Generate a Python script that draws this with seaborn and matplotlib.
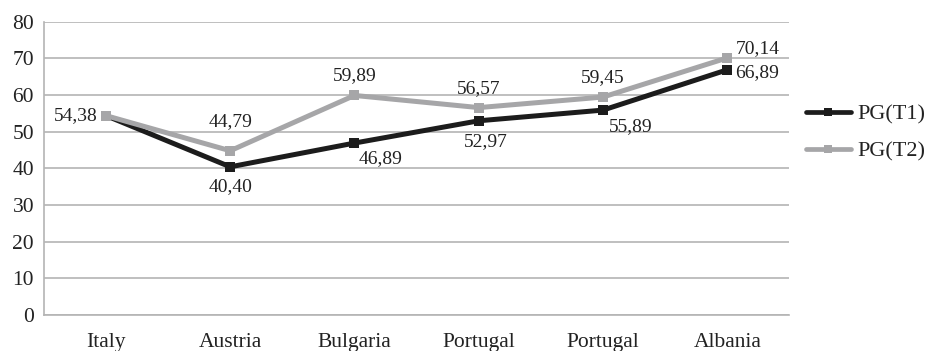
import matplotlib
matplotlib.use("Agg")
import matplotlib.pyplot as plt
from matplotlib.lines import Line2D
import seaborn as sns
import pandas as pd

countries = ["Italy", "Austria", "Bulgaria", "Portugal", "Portugal", "Albania"]
pg_t1 = [54.38, 40.40, 46.89, 52.97, 55.89, 66.89]
pg_t2 = [54.38, 44.79, 59.89, 56.57, 59.45, 70.14]
series_names = ["PG(T1)", "PG(T2)"]
yticks = [0, 10, 20, 30, 40, 50, 60, 70, 80]

sns.set_theme(style="white")
plt.rcParams["font.family"] = ["Liberation Serif", "DejaVu Serif"]

pos = list(range(len(countries)))
df = pd.DataFrame({
    "pos": pos * 2,
    "value": pg_t1 + pg_t2,
    "series": [series_names[0]] * len(pos) + [series_names[1]] * len(pos),
})

fig = plt.figure(figsize=(9.32, 3.51), dpi=100)
ax = fig.add_axes([0.047, 0.103, 0.8, 0.835])

palette = {series_names[0]: "#1c1c1c", series_names[1]: "#a6a6a8"}
# T1 is drawn first, so the gray T2 line sits on top where they meet
sns.lineplot(data=df, x="pos", y="value", hue="series", hue_order=series_names,
             palette=palette, marker="s", markersize=7.5, markeredgewidth=0,
             linewidth=3.6, ax=ax, legend=False)

ax.set_xlim(-0.5, len(countries) - 0.5)
ax.set_ylim(0, 80)
ax.set_yticks(yticks)
ax.set_yticklabels([str(v) for v in yticks])
ax.set_xticks(pos)
ax.set_xticklabels(countries)
ax.set_xlabel("")
ax.set_ylabel("")
ax.tick_params(axis="both", length=0, labelsize=15.5, colors="#222222")
ax.tick_params(axis="x", pad=13)
ax.tick_params(axis="y", pad=7)
ax.grid(axis="y", color="#b4b4b4", linewidth=1.2)
ax.set_axisbelow(True)
for side in ["top", "right"]:
    ax.spines[side].set_visible(False)
for side in ["left", "bottom"]:
    ax.spines[side].set_color("#b4b4b4")
    ax.spines[side].set_linewidth(1.2)

def fmt(v):
    return f"{v:.2f}".replace(".", ",")

lab = dict(fontsize=14, color="#222222")

def put(value, x, dx, dy, ha="center", va="center"):
    ax.annotate(fmt(value), (x, value), xytext=(dx, dy), textcoords="offset points",
                ha=ha, va=va, **lab)

# Italy (shared value)
put(pg_t1[0], pos[0], -6, 0, ha="right")
# Austria
put(pg_t2[1], pos[1], 0, 21)
put(pg_t1[1], pos[1], 0, -14)
# Bulgaria
put(pg_t2[2], pos[2], 0, 14)
put(pg_t1[2], pos[2], 19, -11)
# Portugal
put(pg_t2[3], pos[3], 0, 14)
put(pg_t1[3], pos[3], 5, -15)
# Portugal (second)
put(pg_t2[4], pos[4], 0, 14)
put(pg_t1[4], pos[4], 20, -12)
# Albania
put(pg_t2[5], pos[5], 6, 7, ha="left")
put(pg_t1[5], pos[5], 6, -2, ha="left")

handles = [
    Line2D([], [], color=palette[s], marker="s", markersize=5.5,
           markeredgewidth=0, linewidth=3.4)
    for s in series_names
]
fig.legend(handles, series_names, loc="center left", bbox_to_anchor=(0.865, 0.622),
           frameon=False, fontsize=16, handlelength=2.0, handletextpad=0.3,
           labelspacing=0.75, labelcolor="#222222", borderpad=0.0,
           borderaxespad=0.0)

fig.savefig("out.png", dpi=100, facecolor="white")
